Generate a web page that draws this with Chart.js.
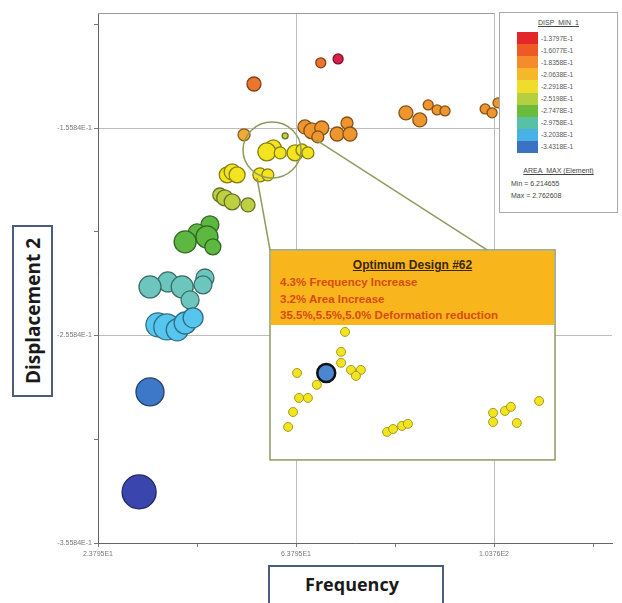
<!DOCTYPE html>
<html><head><meta charset="utf-8">
<script src="https://cdn.jsdelivr.net/npm/chart.js@4/dist/chart.umd.min.js"></script>
<style>
html,body{margin:0;padding:0;background:#fff;}
#wrap{position:relative;width:622px;height:603px;overflow:hidden;font-family:'Liberation Sans',Arial,sans-serif;}
#c{position:absolute;left:0;top:0;}
.ytitle{position:absolute;left:12px;top:225px;width:41px;height:172px;border:2px solid #4d5b7c;box-sizing:border-box;background:#fff;}
.ytitle span{position:absolute;left:50%;top:50%;transform:translate(-50%,-50%) rotate(-90deg);white-space:nowrap;font:700 19px 'Open Sans';color:#1a1a1a;}
.xtitle{position:absolute;left:268px;top:565px;width:176px;height:50px;border:2px solid #4d5b7c;box-sizing:border-box;background:#fff;}
.xtitle span{position:absolute;left:0;right:8px;top:5px;text-align:center;font:700 18px 'Open Sans';color:#1a1a1a;}
.hdr{position:absolute;left:271px;top:251px;width:283px;height:74px;background:#f8b51c;}
.hdr .t{position:absolute;left:0;right:0;top:7px;text-align:center;font:700 12px 'Liberation Sans';color:#3a2800;text-decoration:underline;}
.hdr .l{position:absolute;left:9px;font:700 11.5px 'Liberation Sans';color:#d84a12;white-space:nowrap;}
.leg{position:absolute;left:499px;top:12px;width:119px;height:201px;border:1px solid #aaa;box-sizing:border-box;background:#fff;}
.leg .tt{position:absolute;left:0;right:0;text-align:center;font:7px 'Liberation Sans';color:#444;text-decoration:underline;}
.leg .band{position:absolute;left:17px;width:21px;}
.leg .lab{position:absolute;left:41px;font:6.5px 'Liberation Sans';color:#555;white-space:nowrap;}
.leg .mm{position:absolute;left:11px;font:7px 'Liberation Sans';color:#444;white-space:nowrap;}
</style></head>
<body>
<div id="wrap">
<canvas id="c" width="622" height="603"></canvas>
<div class="ytitle"><span>Displacement 2</span></div>
<div class="xtitle"><span>Frequency</span></div>
<div class="hdr" id="hdr"></div>
<div class="leg" id="leg"></div>
</div>
<script>
// ---- data (Frequency vs Displacement 2, colour = DISP_MIN_1 level) ----
const freq = [72.3, 68.8, 55.3, 86.0, 88.8, 90.5, 92.3, 93.9, 102.0, 103.4, 104.6,
  65.6, 67.0, 69.0, 68.2, 72.1, 74.1, 74.7,
  53.3, 61.6,
  59.2, 57.9, 60.6, 63.6, 65.0, 66.2,
  49.9, 50.9, 51.9, 56.5, 58.1,
  48.4, 49.4, 50.9, 54.1,
  46.4, 43.8, 45.8, 41.4, 47.0,
  45.4, 37.9, 34.3, 40.8, 45.0, 42.4,
  35.9, 37.7, 39.8, 41.4, 43.0,
  34.3, 32.1];
const disp = [-0.1225, -0.1244, -0.1346, -0.1485, -0.1519, -0.1447, -0.1471, -0.1476, -0.1466, -0.1485, -0.1437,
  -0.1553, -0.1572, -0.1558, -0.1601, -0.1587, -0.1534, -0.1587,
  -0.1591, -0.1596,
  -0.1654, -0.1673, -0.1678, -0.1678, -0.1664, -0.1678,
  -0.1784, -0.1770, -0.1784, -0.1784, -0.1784,
  -0.1881, -0.1895, -0.1914, -0.1929,
  -0.2025, -0.2064, -0.2083, -0.2107, -0.2131,
  -0.2281, -0.2300, -0.2324, -0.2324, -0.2314, -0.2387,
  -0.2507, -0.2517, -0.2531, -0.2498, -0.2473,
  -0.2830, -0.3312];
const areaSize = [5, 5, 7, 7, 7, 5, 5, 5, 5, 5, 5,
  7, 8, 7, 6, 7, 6, 7,
  6, 3,
  8, 9, 6, 8, 6, 6,
  8, 8, 8, 7, 6,
  7, 8, 8, 7,
  9, 9, 11, 11, 8,
  9, 10, 11, 11, 9, 9,
  12, 13, 11, 11, 10,
  14, 17];
const dispLevel = [0, 1, 1, 2, 2, 2, 2, 2, 2, 2, 2,
  2, 2, 2, 2, 2, 2, 2,
  3, 5,
  4, 4, 4, 4, 4, 4,
  4, 4, 4, 4, 4,
  5, 5, 5, 5,
  6, 6, 6, 6, 6,
  7, 7, 7, 7, 7, 7,
  8, 8, 8, 8, 8,
  9, 10];
// zoomed-in detail (inset)
const insetFreq = [73.7, 72.9, 72.9, 64.0, 74.9, 76.9, 75.9, 68.0, 64.4, 66.2, 63.2, 62.2,
  82.2, 83.4, 85.2, 86.4, 103.6, 103.6, 106.0, 107.2, 108.4, 112.9];
const insetDisp = [-0.2541, -0.2637, -0.2690, -0.2739, -0.2724, -0.2724, -0.2753, -0.2796, -0.2859, -0.2859, -0.2927, -0.2999,
  -0.3023, -0.3009, -0.2994, -0.2984, -0.2931, -0.2975, -0.2922, -0.2902, -0.2980, -0.2874];
const optimumFreq = [69.9];
const optimumDisp = [-0.2739];

const xTickValues = [23.795, 43.795, 63.795, 83.795, 103.795, 123.795];
const xTickLabels = ['2.3795E1', '', '6.3795E1', '', '1.0376E2', ''];
const yTickValues = [-0.35584, -0.30584, -0.25584, -0.20584, -0.15584, -0.10584];
const yTickLabels = ['-3.5584E-1', '', '-2.5584E-1', '', '-1.5584E-1', ''];

const legendTitle = 'DISP_MIN_1';
const legendLabels = ['-1.3797E-1', '-1.6077E-1', '-1.8358E-1', '-2.0638E-1', '-2.2918E-1',
  '-2.5198E-1', '-2.7478E-1', '-2.9758E-1', '-3.2038E-1', '-3.4318E-1'];
const sizeTitle = 'AREA_MAX (Element)';
const sizeMinMax = ['Min = 6.214655', 'Max = 2.762608'];
const calloutTitle = 'Optimum Design #62';
const calloutLines = ['4.3% Frequency Increase', '3.2% Area Increase', '35.5%,5.5%,5.0% Deformation reduction'];

// ---- styles ----
const pointPalette = ['#d8204a', '#e8762e', '#ee952e', '#f0ab34', '#f2e41e', '#bcd042', '#5db841', '#6cc6bd', '#57c6ef', '#3d78c8', '#3a46ae'];
const legendColors = ['#e3262a', '#ee5a26', '#f38c2a', '#f6b82a', '#f0dc2a', '#b4d040', '#6cbc3c', '#58c0a4', '#48b2e6', '#3a72c4'];
function darken(hex, f) {
  const n = parseInt(hex.slice(1), 16);
  const r = Math.round(((n >> 16) & 255) * f), g = Math.round(((n >> 8) & 255) * f), b = Math.round((n & 255) * f);
  return `rgb(${r},${g},${b})`;
}

// HTML overlays
const hdr = document.getElementById('hdr');
hdr.innerHTML = `<div class="t">${calloutTitle}</div>` +
  calloutLines.map((s, i) => `<div class="l" style="top:${25 + i * 16.5}px">${s}</div>`).join('');
const leg = document.getElementById('leg');
let lh = `<div class="tt" style="top:6px">${legendTitle}</div>`;
legendColors.forEach((c, i) => {
  lh += `<div class="band" style="top:${19 + i * 12.1}px;height:12.3px;background:${c}"></div>`;
  lh += `<div class="lab" style="top:${21.5 + i * 12.1}px">${legendLabels[i]}</div>`;
});
lh += `<div class="tt" style="top:154px">${sizeTitle}</div>`;
lh += `<div class="mm" style="top:167px">${sizeMinMax[0]}</div>`;
lh += `<div class="mm" style="top:179px">${sizeMinMax[1]}</div>`;
leg.innerHTML = lh;

// annotation geometry in data units
const insetBox = { x0: 58.54, x1: 116.12, y0: -0.2146, y1: -0.3158 };
const zoomEllipse = { cx: 58.95, cy: -0.16641, rx: 5.86, ry: 0.0135 };
const connectors = [[55.92, -0.17991, 58.54, -0.2146], [67.84, -0.16159, 102.38, -0.2146]];

const calloutPlugin = {
  id: 'callout',
  beforeDatasetsDraw(chart) {
    const { ctx, chartArea: a, scales: { x } } = chart;
    ctx.save();
    ctx.strokeStyle = '#9a9a9a';
    ctx.lineWidth = 1;
    ctx.beginPath();
    ctx.moveTo(a.left, a.top + 0.5);
    ctx.lineTo(x.getPixelForValue(103.795), a.top + 0.5);
    ctx.stroke();
    ctx.restore();
  },
  beforeDatasetDraw(chart, args) {
    if (args.index !== 1) return;
    const { ctx, scales: { x, y } } = chart;
    ctx.save();
    const l = x.getPixelForValue(insetBox.x0), r = x.getPixelForValue(insetBox.x1);
    const t = y.getPixelForValue(insetBox.y0), b = y.getPixelForValue(insetBox.y1);
    ctx.fillStyle = '#fff';
    ctx.fillRect(l, t, r - l, b - t);
    ctx.strokeStyle = '#8f9a5e';
    ctx.lineWidth = 1.5;
    ctx.strokeRect(l, t, r - l, b - t);
    const cx = x.getPixelForValue(zoomEllipse.cx), cy = y.getPixelForValue(zoomEllipse.cy);
    const rx = x.getPixelForValue(zoomEllipse.cx + zoomEllipse.rx) - cx;
    const ry = cy - y.getPixelForValue(zoomEllipse.cy + zoomEllipse.ry);
    ctx.beginPath();
    ctx.ellipse(cx, cy, rx, ry, 0, 0, Math.PI * 2);
    ctx.stroke();
    connectors.forEach(c => {
      ctx.beginPath();
      ctx.moveTo(x.getPixelForValue(c[0]), y.getPixelForValue(c[1]));
      ctx.lineTo(x.getPixelForValue(c[2]), y.getPixelForValue(c[3]));
      ctx.stroke();
    });
    ctx.restore();
  }
};

const mainData = freq.map((v, i) => ({ x: v, y: disp[i], r: areaSize[i] }));
const insetData = insetFreq.map((v, i) => ({ x: v, y: insetDisp[i], r: 4.5 }));
const optData = optimumFreq.map((v, i) => ({ x: v, y: optimumDisp[i], r: 9 }));

const tickFont = { family: 'Liberation Sans', size: 7 };
new Chart(document.getElementById('c'), {
  type: 'bubble',
  data: {
    datasets: [
      { data: mainData, order: 2,
        backgroundColor: dispLevel.map(l => pointPalette[l]),
        borderColor: dispLevel.map(l => darken(pointPalette[l], 0.55)),
        borderWidth: 1.3 },
      { data: insetData, order: 1,
        backgroundColor: '#f2e41e', borderColor: '#a69c22', borderWidth: 1 },
      { data: optData, order: 0,
        backgroundColor: '#4a86d2', borderColor: '#111', borderWidth: 2.5 }
    ]
  },
  options: {
    responsive: false, animation: false,
    events: [],
    layout: { autoPadding: false, padding: { top: 13, right: 10, left: 0, bottom: 0 } },
    plugins: { legend: { display: false }, tooltip: { enabled: false } },
    scales: {
      x: {
        type: 'linear', min: 23.795, max: 127.63,
        afterBuildTicks: s => { s.ticks = xTickValues.map(v => ({ value: v })); },
        afterFit: s => { s.height = 60; },
        ticks: { callback: (v, i) => xTickLabels[i], font: tickFont, color: '#777', autoSkip: false, maxRotation: 0, padding: 3 },
        grid: { color: c => (c.index % 2 === 0 ? '#bdbdbd' : 'rgba(0,0,0,0)'), tickColor: '#777', tickLength: 4, lineWidth: 1 },
        border: { color: '#666', width: 1 }
      },
      y: {
        type: 'linear', min: -0.35584, max: -0.10038,
        afterBuildTicks: s => { s.ticks = yTickValues.map(v => ({ value: v })); },
        afterFit: s => { s.width = 98; },
        ticks: { callback: (v, i) => yTickLabels[i], font: tickFont, color: '#777', autoSkip: false, padding: 2 },
        grid: { color: c => (c.index % 2 === 0 ? '#bdbdbd' : 'rgba(0,0,0,0)'), tickColor: '#777', tickLength: 4, lineWidth: 1 },
        border: { color: '#666', width: 1 }
      }
    }
  },
  plugins: [calloutPlugin]
});
</script>
</body></html>
